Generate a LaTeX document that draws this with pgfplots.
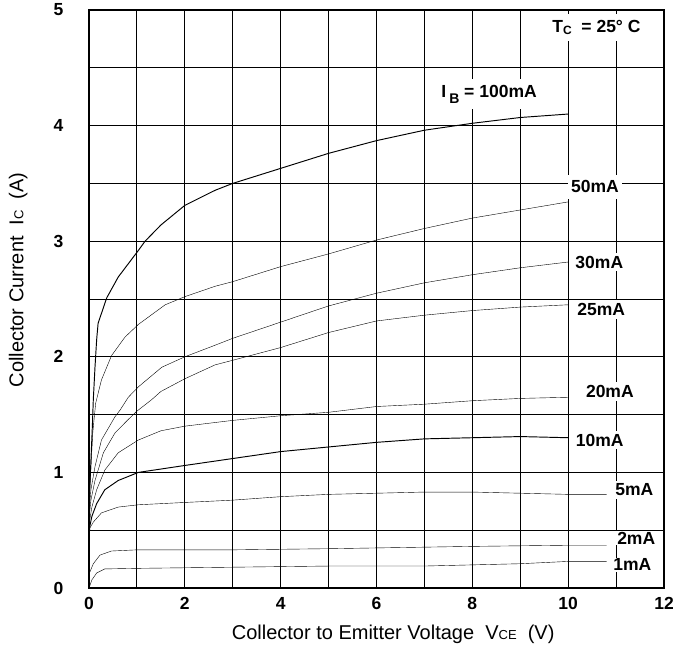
\documentclass[border=0pt]{standalone}
\usepackage{fontspec}
\setmainfont{Liberation Sans}
\usepackage{pgfplots}
\pgfplotsset{compat=1.18}
\begin{document}
\begin{tikzpicture}
\begin{axis}[
  scale only axis, width=575pt, height=578pt,
  xmin=0, xmax=12, ymin=0, ymax=5,
  xtick={0,2,...,12}, minor xtick={1,3,...,11},
  ytick={0,1,...,5}, minor ytick={0.5,1.5,...,4.5},
  grid=both,
  major grid style={black, line width=0.9pt},
  minor grid style={black, line width=0.9pt},
  major tick length=0pt, minor tick length=0pt,
  axis line style={black, line width=1.1pt},
  /pgf/number format/assume math mode=true,
  ticklabel style={font=\bfseries\fontsize{17.5}{17.5}\selectfont},
  xticklabel style={yshift=-6pt},
  yticklabel style={xshift=-22pt},
  xlabel={Collector to Emitter Voltage\ \ V{\fontsize{13}{13}\selectfont CE}\ \ (V)},
  ylabel={Collector Current\ \ I{\fontsize{13}{13}\selectfont C}\ \ (A)},
  xlabel style={at={(axis description cs:0.529,-0.081)}, anchor=center, font=\fontsize{20}{20}\selectfont},
  ylabel style={at={(axis description cs:-0.123,0.533)}, anchor=center, font=\fontsize{20}{20}\selectfont},
  cycle list={{black, solid, no markers, line width=0.95pt, line join=round}},
  clip=false,
]
% 1mA
\addplot coordinates {(0,0) (0.06,0.07) (0.16,0.13) (0.33,0.165) (1,0.17) (3,0.18) (5,0.19) (7,0.19) (8,0.20) (9,0.21) (10,0.23) (10.8,0.23)};
% 2mA
\addplot coordinates {(0,0) (0.01,0.13) (0.09,0.21) (0.23,0.285) (0.47,0.32) (1,0.33) (3,0.33) (5,0.34) (6.5,0.35) (8,0.36) (10,0.37) (10.8,0.37)};
% 5mA
\addplot coordinates {(0,0.42) (0.02,0.52) (0.09,0.57) (0.26,0.65) (0.61,0.70) (1.03,0.72) (2,0.74) (3,0.76) (4,0.79) (5,0.81) (6,0.82) (7,0.83) (8,0.83) (9,0.82) (10,0.81) (10.8,0.81)};
% 10mA
\addplot coordinates {(0,0.5) (0.06,0.62) (0.16,0.73) (0.33,0.85) (0.61,0.93) (1.03,1.0) (2,1.06) (3,1.12) (4,1.18) (5,1.22) (6,1.26) (7,1.29) (8,1.30) (9,1.31) (10,1.30)};
% 20mA
\addplot coordinates {(0,0.55) (0.06,0.70) (0.16,0.85) (0.33,1.02) (0.61,1.17) (1.03,1.28) (1.5,1.36) (2,1.40) (3,1.45) (4,1.49) (5,1.52) (6,1.57) (7,1.59) (8,1.62) (9,1.64) (10,1.65)};
% 25mA
\addplot coordinates {(0,0.6) (0.04,0.76) (0.125,0.93) (0.3,1.17) (0.54,1.34) (0.8,1.45) (1.0,1.53) (1.31,1.63) (1.5,1.70) (2,1.81) (2.63,1.93) (3,1.97) (4,2.08) (5,2.21) (6,2.31) (7,2.36) (8,2.40) (9,2.43) (10,2.45)};
% 30mA
\addplot coordinates {(0,0.65) (0.04,0.85) (0.125,1.05) (0.26,1.28) (0.54,1.48) (0.65,1.54) (0.82,1.65) (1.03,1.74) (1.52,1.91) (2,2.0) (2.63,2.10) (3,2.16) (4,2.3) (5,2.44) (6,2.55) (7,2.64) (8,2.71) (9,2.77) (10,2.82)};
% 50mA
\addplot coordinates {(0,0.7) (0.04,1.05) (0.08,1.35) (0.14,1.6) (0.26,1.80) (0.47,2.01) (0.75,2.17) (1.03,2.28) (1.59,2.45) (2,2.52) (2.63,2.61) (3,2.65) (4,2.78) (5,2.89) (6,3.01) (7,3.11) (8,3.2) (9,3.27) (10,3.34)};
% 100mA
\addplot coordinates {(0,0.7) (0.04,1.1) (0.07,1.4) (0.09,1.63) (0.125,1.91) (0.16,2.15) (0.19,2.29) (0.37,2.51) (0.61,2.69) (1.03,2.92) (1.17,3.0) (1.5,3.14) (2,3.31) (2.63,3.44) (3,3.5) (4,3.63) (5,3.76) (6,3.87) (7,3.96) (8,4.02) (9,4.07) (10,4.10)};

\tikzset{lab/.style={fill=white, inner xsep=3pt, inner ysep=3pt, font=\bfseries\fontsize{17.5}{17.5}\selectfont}}
\node[lab, inner ysep=6pt] at (axis cs:10.59,4.85) {T\raisebox{-2pt}{\fontsize{12}{12}\selectfont C}\ \ = 25° C};
\node[lab, inner ysep=6pt] at (axis cs:8.35,4.27) {I\,\raisebox{-6pt}{\fontsize{14}{14}\selectfont B} = 100mA};
\node[lab, inner ysep=6pt] at (axis cs:10.56,3.47) {50mA};
\node[lab] at (axis cs:10.65,2.82) {30mA};
\node[lab] at (axis cs:10.69,2.41) {25mA};
\node[lab] at (axis cs:10.87,1.70) {20mA};
\node[lab] at (axis cs:10.66,1.28) {10mA};
\node[lab] at (axis cs:11.38,0.85) {5mA};
\node[lab, inner sep=1pt] at (axis cs:11.42,0.43) {2mA};
\node[lab, inner sep=1pt] at (axis cs:11.34,0.20) {1mA};
\end{axis}
\pgfresetboundingbox
\path ([shift={(-89pt,-67pt)}]current axis.south west) rectangle ([shift={(9pt,10pt)}]current axis.north east);
\end{tikzpicture}
\end{document}
